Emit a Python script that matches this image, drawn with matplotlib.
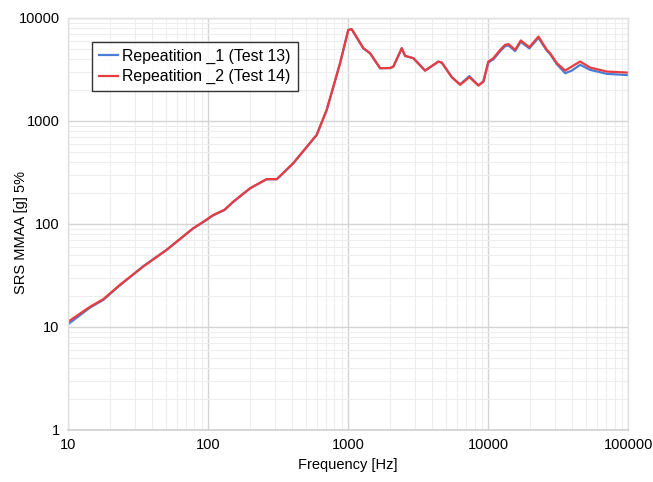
import matplotlib
matplotlib.use("Agg")
import matplotlib.pyplot as plt
from matplotlib.ticker import FixedLocator, FixedFormatter, LogLocator, NullFormatter

plt.rcParams['font.family'] = ['Liberation Sans', 'DejaVu Sans']

# Shock response spectrum, 5% damping
freq_hz = [10, 14.4, 17.9, 23.5, 34.5, 50.7, 78.5, 92.7, 109, 131, 152, 200, 262,
           310, 406, 597, 704, 877, 1004, 1061, 1285, 1436, 1693, 1995, 2107,
           2418, 2553, 2927, 3548, 4417, 4670, 5500, 6310, 7350, 8530, 9250,
           10040, 10900, 12190, 13220, 13960, 15600, 17100, 19700, 22870,
           26240, 27700, 30950, 35500, 39600, 45400, 53500, 70500, 100000]

rep2_test14 = [11.2, 15.7, 18.6, 25.6, 38.5, 56, 90.8, 105, 122, 137, 165, 222, 272,
               272, 388, 731, 1280, 3630, 7640, 7770, 5080, 4540, 3250, 3250, 3370,
               5080, 4280, 4060, 3076, 3765, 3680, 2655, 2240, 2655, 2200, 2410,
               3765, 4060, 4890, 5470, 5560, 4890, 6030, 5190, 6580,
               4890, 4540, 3630, 3076, 3370, 3765, 3290, 3010, 2940]

rep1_test13 = [10.6, 15.4, 18.3, 25.3, 38.9, 56, 90.5, 104, 121, 136, 164, 221, 271,
               271, 387, 729, 1275, 3620, 7620, 7750, 5060, 4520, 3240, 3260, 3360,
               5050, 4270, 4050, 3070, 3750, 3670, 2660, 2260, 2720, 2210, 2400,
               3700, 3950, 4750, 5300, 5400, 4750, 5850, 5050, 6400,
               4800, 4450, 3550, 2900, 3076, 3500, 3125, 2860, 2780]

series_labels = ["Repeatition _1 (Test 13)", "Repeatition _2 (Test 14)"]
x_ticks = [10, 100, 1000, 10000, 100000]
x_tick_labels = ["10", "100", "1000", "10000", "100000"]
y_ticks = [1, 10, 100, 1000, 10000]
y_tick_labels = ["1", "10", "100", "1000", "10000"]

fig = plt.figure(figsize=(6.53, 4.82), dpi=100)
ax = fig.add_axes([0.104, 0.108, 0.858, 0.855])

ax.plot(freq_hz, rep1_test13, color="#4a7dd4", lw=1.6, label=series_labels[0])
ax.plot(freq_hz, rep2_test14, color="#ea3b3f", lw=1.6, label=series_labels[1])

ax.set_xscale("log")
ax.set_yscale("log")
ax.set_xlim(10, 100000)
ax.set_ylim(1, 10000)

ax.xaxis.set_major_locator(FixedLocator(x_ticks))
ax.xaxis.set_major_formatter(FixedFormatter(x_tick_labels))
ax.yaxis.set_major_locator(FixedLocator(y_ticks))
ax.yaxis.set_major_formatter(FixedFormatter(y_tick_labels))
ax.xaxis.set_minor_locator(LogLocator(base=10, subs=range(2, 10), numticks=20))
ax.yaxis.set_minor_locator(LogLocator(base=10, subs=range(2, 10), numticks=20))
ax.xaxis.set_minor_formatter(NullFormatter())
ax.yaxis.set_minor_formatter(NullFormatter())

ax.grid(which="major", color="#d4d4d4", lw=1.0)
ax.grid(which="minor", color="#ededed", lw=0.8)
ax.set_axisbelow(True)
ax.tick_params(which="both", length=0, labelsize=10.5, pad=6, colors="black")

for side in ["top", "right", "left"]:
    ax.spines[side].set_color("#e0e0e0")
    ax.spines[side].set_linewidth(1.0)
ax.spines["bottom"].set_color("#cfcfcf")
ax.spines["bottom"].set_linewidth(1.2)

ax.set_xlabel("Frequency [Hz]", fontsize=10.5, labelpad=4)
ax.set_ylabel("SRS MMAA [g] 5%", fontsize=10.5)
ax.yaxis.set_label_coords(-0.071, 0.48)

leg = ax.legend(loc="upper left", bbox_to_anchor=(0.043, 0.942), fontsize=11.4,
                frameon=True, fancybox=False, edgecolor="black",
                handlelength=1.2, handletextpad=0.3, borderpad=0.42,
                labelspacing=0.36, borderaxespad=0)
leg.get_frame().set_linewidth(1.0)

fig.savefig("out.png", dpi=100)
